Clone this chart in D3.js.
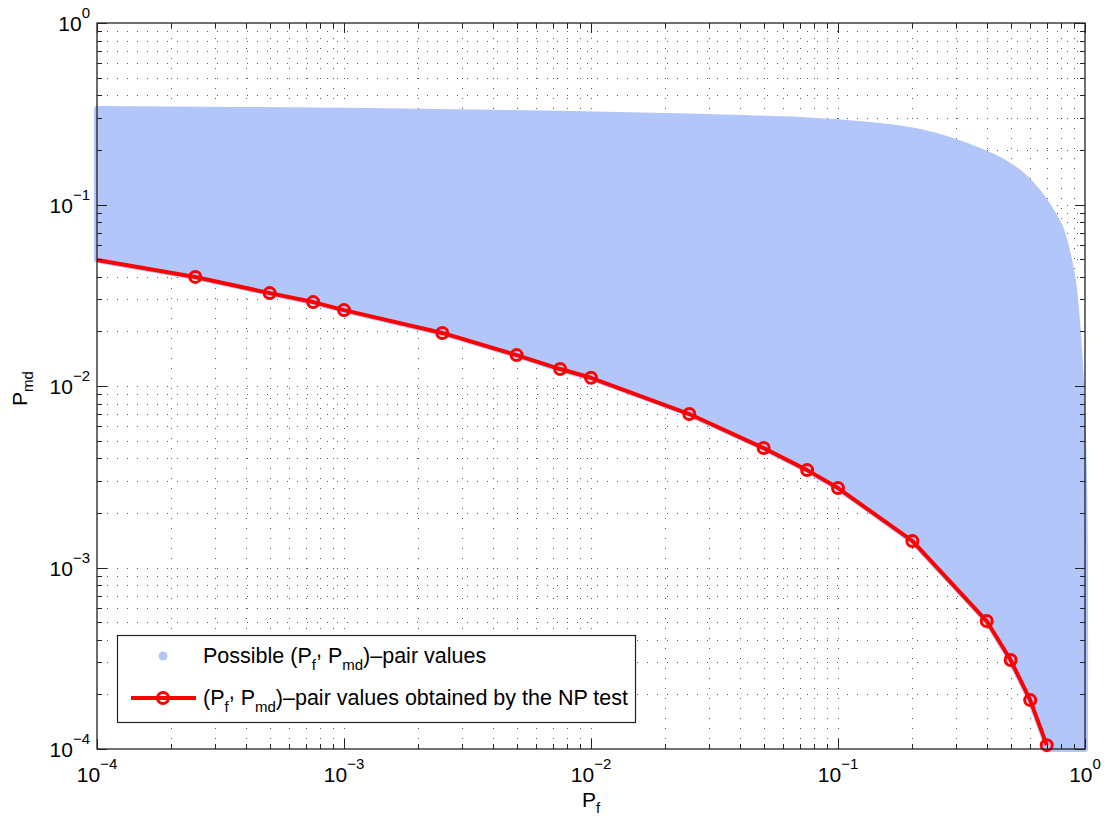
<!DOCTYPE html>
<html>
<head>
<meta charset="utf-8">
<script src="https://cdn.jsdelivr.net/npm/d3@7"></script>
<style>
  html, body { margin: 0; padding: 0; background: #fff; }
  svg { display: block; font-family: "Liberation Sans", Arial, Helvetica, sans-serif; }
</style>
</head>
<body>
<svg id="chart" width="1105" height="821"></svg>
<script>
// ---- data ----
// NP test curve (Pf, Pmd)
const npPf  = [1e-4, 2.5e-4, 5e-4, 7.5e-4, 1e-3, 2.5e-3, 5e-3, 7.5e-3, 1e-2, 2.5e-2, 5e-2, 7.5e-2, 0.1, 0.2, 0.4, 0.5, 0.6, 0.7];
const npPmd = [0.0494, 0.0399, 0.0325, 0.0290, 0.0262, 0.0196, 0.0148, 0.0124, 0.0111, 0.00701, 0.00455, 0.00344, 0.00274, 0.00140, 0.000507, 0.000309, 0.000186, 0.000105];
const npMarker = [false, true, true, true, true, true, true, true, true, true, true, true, true, true, true, true, true, true];
// upper envelope of the cloud of possible (Pf, Pmd) pairs
const cloudTopPf  = [1e-4, 1e-3, 7.5e-3, 0.0276, 0.0701, 0.1346, 0.2049, 0.2839, 0.3756, 0.4742, 0.561, 0.645, 0.721, 0.792, 0.846, 0.894, 0.928, 0.963, 0.991, 1.0, 1.0];
const cloudTopPmd = [0.336, 0.328, 0.316, 0.304, 0.292, 0.274, 0.254, 0.2266, 0.1971, 0.1693, 0.1436, 0.1172, 0.0945, 0.0752, 0.0554, 0.0379, 0.0228, 0.01066, 0.00303, 0.0008, 1e-4];
const decades = [1e-4, 1e-3, 1e-2, 1e-1, 1];
const decadeExp = ["\u22124", "\u22123", "\u22122", "\u22121", "0"];

// ---- layout ----
const L = 97, R = 1085, T = 23, B = 749;
const svg = d3.select("#chart");
const x = d3.scaleLog().domain([1e-4, 1]).range([L, R]);
const y = d3.scaleLog().domain([1e-4, 1]).range([B, T]);

const blue = "#b3c6fa";
const red = "#ff0000";

const allTicks = [];
for (let e = -4; e < 0; e++) for (let m = 1; m <= 9; m++) allTicks.push(m * Math.pow(10, e));
allTicks.push(1);
const isDecade = v => decades.some(d => Math.abs(d - v) / d < 1e-9);

// ---- grid (dotted, major + minor) ----
const inner = allTicks.filter(v => v > 1e-4 && v < 1);
const grid = svg.append("g").attr("stroke", "#000").attr("stroke-width", 1)
  .attr("stroke-dasharray", "1,9").attr("opacity", 0.65);
grid.selectAll("line.gx").data(inner).enter().append("line")
  .attr("x1", d => Math.round(x(d)) + 0.5).attr("x2", d => Math.round(x(d)) + 0.5)
  .attr("y1", B).attr("y2", T);
grid.selectAll("line.gy").data(inner).enter().append("line")
  .attr("y1", d => Math.round(y(d)) + 0.5).attr("y2", d => Math.round(y(d)) + 0.5)
  .attr("x1", L).attr("x2", R);

// ---- cloud region ----
const topPts = cloudTopPf.map((p, i) => [x(p), y(cloudTopPmd[i])]);
const restPts = [[x(npPf[npPf.length - 1]), y(1e-4)]];
for (let i = npPf.length - 1; i >= 0; i--) restPts.push([x(npPf[i]), y(npPmd[i])]);
const topStr = d3.line().curve(d3.curveCatmullRom.alpha(0.5))(topPts);
const restStr = d3.line()(restPts).replace(/^M/, "L");
svg.append("path")
  .attr("d", topStr + restStr + "Z")
  .attr("fill", blue).attr("stroke", blue).attr("stroke-width", 6).attr("stroke-linejoin", "round");

// ---- NP curve ----
const npData = npPf.map((p, i) => ({ pf: p, pmd: npPmd[i], m: npMarker[i] }));
svg.append("path")
  .datum(npData)
  .attr("d", d3.line().x(d => x(d.pf)).y(d => y(d.pmd)))
  .attr("fill", "none").attr("stroke", red).attr("stroke-width", 4).attr("stroke-linejoin", "round");
svg.selectAll("circle.np").data(npData.filter(d => d.m)).enter().append("circle")
  .attr("cx", d => x(d.pf)).attr("cy", d => y(d.pmd)).attr("r", 5.5)
  .attr("fill", "none").attr("stroke", red).attr("stroke-width", 3);

// ---- axes box and ticks ----
const axisColor = "#222";
const ticks = svg.append("g").attr("stroke", axisColor).attr("stroke-width", 1);
allTicks.forEach(v => {
  const xv = Math.round(x(v)) + 0.5, yv = Math.round(y(v)) + 0.5, len = isDecade(v) ? 10 : 5;
  ticks.append("line").attr("x1", xv).attr("x2", xv).attr("y1", B).attr("y2", B - len);
  ticks.append("line").attr("x1", xv).attr("x2", xv).attr("y1", T).attr("y2", T + len);
  ticks.append("line").attr("y1", yv).attr("y2", yv).attr("x1", L).attr("x2", L + len);
  ticks.append("line").attr("y1", yv).attr("y2", yv).attr("x1", R).attr("x2", R - len);
});
svg.append("rect").attr("x", L).attr("y", T).attr("width", R - L).attr("height", B - T)
  .attr("fill", "none").attr("stroke", axisColor).attr("stroke-width", 1.3);

// ---- tick labels ----
const xl = svg.append("g").attr("font-size", 21).attr("fill", "#000");
decades.forEach((d, i) => {
  const t = xl.append("text").attr("x", x(d)).attr("y", 782).attr("text-anchor", "middle");
  t.append("tspan").text("10");
  t.append("tspan").attr("font-size", 15).attr("dy", -13).text(decadeExp[i]);
});
const yl = svg.append("g").attr("font-size", 21).attr("fill", "#000");
decades.forEach((d, i) => {
  const t = yl.append("text").attr("x", L - 7).attr("y", y(d) + 8).attr("text-anchor", "end");
  t.append("tspan").text("10");
  t.append("tspan").attr("font-size", 15).attr("dy", -13).text(decadeExp[i]);
});

// ---- axis titles ----
const xt = svg.append("text").attr("x", 582).attr("y", 807).attr("font-size", 21);
xt.append("tspan").text("P");
xt.append("tspan").attr("font-size", 15).attr("dy", 6).text("f");
const yt = svg.append("text").attr("transform", "translate(27,406) rotate(-90)").attr("font-size", 21);
yt.append("tspan").text("P");
yt.append("tspan").attr("font-size", 15).attr("dy", 6).text("md");

// ---- legend ----
const lg = svg.append("g");
lg.append("rect").attr("x", 117.5).attr("y", 635.5).attr("width", 518).attr("height", 87)
  .attr("fill", "#fff").attr("stroke", axisColor).attr("stroke-width", 1.2);
lg.append("circle").attr("cx", 163).attr("cy", 656).attr("r", 4.5).attr("fill", blue);
function pairText(gx, gy, prefix, rest) {
  const t = lg.append("text").attr("x", gx).attr("y", gy).attr("font-size", 21.5);
  t.append("tspan").text(prefix + "(P");
  t.append("tspan").attr("font-size", 15).attr("dy", 7).text("f");
  t.append("tspan").attr("dy", -13).text(",");
  t.append("tspan").attr("dy", 6).text(" P");
  t.append("tspan").attr("font-size", 15).attr("dy", 7).text("md");
  t.append("tspan").attr("dy", -7).text(rest);
  return t;
}
pairText(203, 663, "Possible ", ")\u2013pair values");
lg.append("line").attr("x1", 131).attr("x2", 196).attr("y1", 698).attr("y2", 698)
  .attr("stroke", red).attr("stroke-width", 4);
lg.append("circle").attr("cx", 163).attr("cy", 698).attr("r", 5.5)
  .attr("fill", "none").attr("stroke", red).attr("stroke-width", 3);
pairText(203, 705, "", ")\u2013pair values obtained by the NP test");
</script>
</body>
</html>
